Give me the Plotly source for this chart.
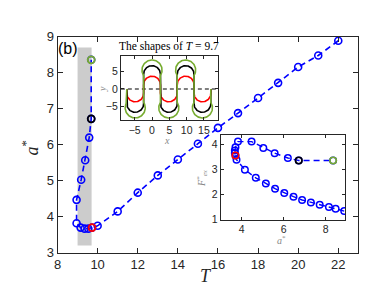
import numpy as np
import plotly.graph_objects as go

# ---- data ----
T_vals = [22, 21, 20, 19, 18, 17, 16, 15, 14, 13, 12, 11, 10,
          9.72, 9.54, 9.35, 9.15, 8.95, 8.95, 9.18, 9.38, 9.58, 9.68, 9.68]
a_vals = [8.89, 8.48, 8.16, 7.72, 7.30, 6.88, 6.47, 6.03, 5.59, 5.15, 4.67, 4.15, 3.75,
          3.70, 3.67, 3.67, 3.70, 3.82, 4.47, 5.03, 5.57, 6.20, 6.72, 8.36]
F_vals = [1.34, 1.43, 1.50, 1.59, 1.68, 1.78, 1.91, 2.06, 2.23, 2.44, 2.66, 2.98, 3.38,
          3.55, 3.65, 3.75, 3.88, 4.10, 4.10, 3.85, 3.64, 3.45, 3.35, 3.35]
highlight_idx = [13, 22, 23]          # red, black, green states
highlight_names = ["red", "black", "green"]
band_T = [9.0, 9.7]
band_a = [3.2, 8.7]
shape_T = 9.7
main_xticks = [8, 10, 12, 14, 16, 18, 20, 22]
main_yticks = [3, 4, 5, 6, 7, 8, 9]
in1_xticks = [-5, 0, 5, 10, 15]
in1_yticks = [-5, 0, 5]
in2_xticks = [4, 6, 8]
in2_yticks = [1, 2, 3, 4]

# ---- styles ----
BLUE = "#0000FF"
HCOL = {"red": "#FF0000", "black": "#000000", "green": "#77AC30"}
arc_radius = {"red": 2.43, "black": 2.43, "green": 2.9}
AX = "#262626"
W, H = 382, 285

def px_dom(a, b, total):
    return [a / total, b / total]

def py_dom(top, bot):
    return [1 - bot / H, 1 - top / H]


def shape_curve(amp, r, T):
    """Serpentine built from arcs (top at +amp, bottom at -amp)."""
    q = T / 4
    phi = np.arccos(min(1.0, q / r))
    yc = amp - r
    xs, ys = [-3 * q], [0.0]
    centres = [(-2 * q, -1), (0, 1), (2 * q, -1), (4 * q, 1), (6 * q, -1)]
    for cx, s in centres:
        if s < 0:
            th = np.linspace(np.pi - phi, 2 * np.pi + phi, 60)
            xs += list(cx + r * np.cos(th)); ys += list(-yc + r * np.sin(th))
        else:
            th = np.linspace(np.pi + phi, -phi, 60)
            xs += list(cx + r * np.cos(th)); ys += list(yc + r * np.sin(th))
    xs.append(7 * q); ys.append(0.0)
    return xs, ys


fig = go.Figure()

# main curve
fig.add_trace(go.Scatter(x=T_vals, y=a_vals, mode="lines+markers",
                         line=dict(color=BLUE, width=1.6, dash="6px,4px"),
                         marker=dict(symbol="circle-open", size=7, color=BLUE,
                                     line=dict(width=1.6, color=BLUE)),
                         xaxis="x", yaxis="y", showlegend=False))
for i, nm in zip(highlight_idx, highlight_names):
    fig.add_trace(go.Scatter(x=[T_vals[i]], y=[a_vals[i]], mode="markers",
                             marker=dict(symbol="circle-open", size=7, color=HCOL[nm],
                                         line=dict(width=1.8, color=HCOL[nm])),
                             xaxis="x", yaxis="y", showlegend=False))

# inset 1: shapes
fig.add_trace(go.Scatter(x=[-9, 19], y=[0, 0], mode="lines",
                         line=dict(color="#555555", width=1.3, dash="4px,3px"),
                         xaxis="x2", yaxis="y2", showlegend=False))
for i, nm in zip(highlight_idx, highlight_names):
    xs, ys = shape_curve(a_vals[i], arc_radius[nm], shape_T)
    fig.add_trace(go.Scatter(x=xs, y=ys, mode="lines",
                             line=dict(color=HCOL[nm], width=1.6),
                             xaxis="x2", yaxis="y2", showlegend=False))

# inset 2: F vs a
fig.add_trace(go.Scatter(x=a_vals, y=F_vals, mode="lines+markers",
                         line=dict(color=BLUE, width=1.4, dash="6px,4px"),
                         marker=dict(symbol="circle-open", size=6.5, color=BLUE,
                                     line=dict(width=1.5, color=BLUE)),
                         xaxis="x3", yaxis="y3", showlegend=False))
for i, nm in zip(highlight_idx, highlight_names):
    fig.add_trace(go.Scatter(x=[a_vals[i]], y=[F_vals[i]], mode="markers",
                             marker=dict(symbol="circle-open", size=6.5, color=HCOL[nm],
                                         line=dict(width=1.6, color=HCOL[nm])),
                             xaxis="x3", yaxis="y3", showlegend=False))

tickfont = dict(family="Liberation Sans, Arial", size=13, color=AX)
smallfont = dict(family="Liberation Sans, Arial", size=10.5, color=AX)

def axis(dom, rng, ticks, font, anchor, ticklen=5):
    return dict(domain=dom, range=rng, tickvals=ticks, ticks="inside", ticklen=ticklen,
                tickcolor=AX, tickwidth=1, showline=True, linecolor=AX, linewidth=1,
                mirror="allticks", showgrid=False, zeroline=False, tickfont=font,
                anchor=anchor, fixedrange=True)

fig.update_layout(
    width=W, height=H, margin=dict(l=0, r=0, t=0, b=0),
    paper_bgcolor="white", plot_bgcolor="white",
    xaxis=axis(px_dom(46, 350, W), [8, 23], main_xticks, tickfont, "y"),
    yaxis=axis(py_dom(23, 251), [3, 9], main_yticks, tickfont, "x"),
    xaxis2=axis(px_dom(110, 208, W), [-9, 19], in1_xticks, smallfont, "y2", 3),
    yaxis2=axis(py_dom(43, 111), [-9, 9.6], in1_yticks, smallfont, "x2", 3),
    xaxis3=axis(px_dom(211, 337, W), [3, 8.95], in2_xticks, smallfont, "y3", 3),
    yaxis3=axis(py_dom(127, 216), [1, 4.35], in2_yticks, smallfont, "x3", 3),
    shapes=[dict(type="rect", xref="x", yref="y", x0=band_T[0], x1=band_T[1],
                 y0=band_a[0], y1=band_a[1], fillcolor="#CCCCCC", line=dict(width=0),
                 layer="below")],
)

serif = "Liberation Serif, Times New Roman, serif"
ann = [
    dict(text="(b)", x=57, y=35, font=dict(family="Liberation Sans, Arial", size=16, color="black")),
    dict(text="<i>a</i><sup>*</sup>", x=19, y=140, textangle=-90,
         font=dict(family=serif, size=18, color=AX)),
    dict(text="<i>T</i>", x=196, y=275, font=dict(family=serif, size=18, color=AX)),
    dict(text="The shapes of <i>T</i> = 9.7", x=159, y=33,
         font=dict(family=serif, size=11.5, color="black")),
    dict(text="<i>x</i>", x=157, y=132, font=dict(family=serif, size=10, color="#888888")),
    dict(text="<i>y</i>", x=92, y=78, textangle=-90, font=dict(family=serif, size=10, color="#888888")),
    dict(text="<i>a</i><sup>*</sup>", x=272, y=238, font=dict(family=serif, size=10, color="#888888")),
    dict(text="<i>F</i><sup>*</sup><sub><i>ex</i></sub>", x=192, y=172, textangle=-90,
         font=dict(family=serif, size=10, color="#888888")),
]
for a in ann:
    a.update(xref="paper", yref="paper", x=a["x"] / W, y=1 - a["y"] / H,
             showarrow=False, xanchor="center", yanchor="middle")
fig.update_layout(annotations=ann)

fig.write_html("out.html")
